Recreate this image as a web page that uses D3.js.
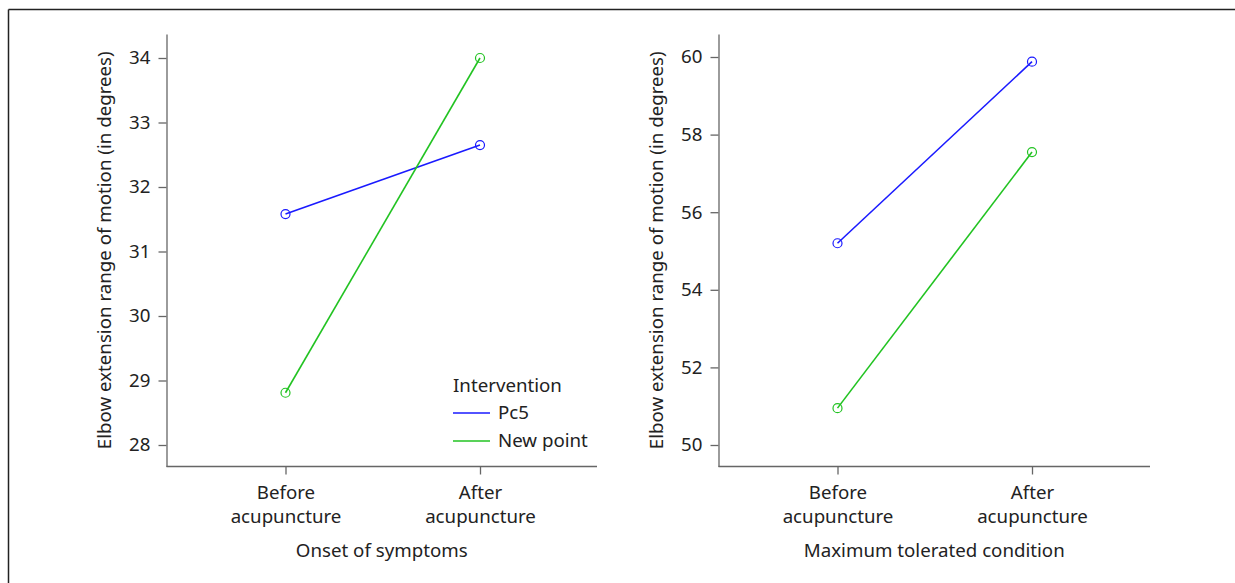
<!DOCTYPE html>
<html><head><meta charset="utf-8">
<script src="https://cdn.jsdelivr.net/npm/d3@7"></script>
<style>
body{margin:0;background:#fff;}
svg{display:block;font-family:"Noto Sans",sans-serif;}
</style></head>
<body><svg id="c" width="1235" height="583"></svg>
<script>
const categories = ["Before\nacupuncture", "After\nacupuncture"];
const seriesNames = ["Pc5", "New point"];
const seriesColors = ["#1a1aff", "#22c322"];
const onsetPc5 = [31.58, 32.65];
const onsetNew = [28.81, 34.0];
const maxPc5 = [55.2, 59.88];
const maxNew = [50.95, 57.55];
const onsetTicks = [28, 29, 30, 31, 32, 33, 34];
const maxTicks = [50, 52, 54, 56, 58, 60];
const yTitle = "Elbow extension range of motion (in degrees)";

const svg = d3.select("#c");
const axisColor = "#666";
const textColor = "#222";
const fs = 18.7;

// frame
svg.append("line").attr("x1",8.5).attr("x2",1235).attr("y1",9.5).attr("y2",9.5).attr("stroke","#222").attr("stroke-width",1.5);
svg.append("line").attr("x1",8.5).attr("x2",8.5).attr("y1",9.5).attr("y2",583).attr("stroke","#222").attr("stroke-width",1.5);

function panel(cfg){
  const g = svg.append("g");
  const x = d3.scalePoint().domain(categories).range([cfg.xBefore, cfg.xAfter]);
  const y = d3.scaleLinear().domain(cfg.domain).range([cfg.bottom, cfg.top]);
  // y axis
  const ya = g.append("g").attr("transform",`translate(${cfg.left},0)`)
    .call(d3.axisLeft(y).tickValues(cfg.ticks).tickFormat(d3.format("d")).tickSize(8).tickPadding(8).tickSizeOuter(0));
  ya.attr("font-size",null).attr("font-family",null);
  ya.select(".domain").attr("stroke",axisColor).attr("stroke-width",1.3);
  ya.selectAll(".tick line").attr("stroke",axisColor).attr("stroke-width",1.3);
  ya.selectAll(".tick text").attr("fill",textColor).style("font-size",fs+"px");
  // x axis
  const xa = g.append("g").attr("transform",`translate(0,${cfg.bottom})`)
    .call(d3.axisBottom(x).tickSize(8).tickSizeOuter(0).tickFormat(""));
  xa.attr("font-size",null).attr("font-family",null);
  xa.select(".domain").attr("d",`M${cfg.left},0H${cfg.right}`).attr("stroke",axisColor).attr("stroke-width",1.3);
  xa.selectAll(".tick line").attr("stroke",axisColor).attr("stroke-width",1.3);
  xa.selectAll(".tick").each(function(d){
    const t = d3.select(this).append("text").attr("fill",textColor).style("font-size",fs+"px").attr("text-anchor","middle");
    d.split("\n").forEach((s,i)=>t.append("tspan").attr("x",0).attr("y",32+i*24).text(s));
  });
  g.append("text").attr("x",(cfg.left+cfg.right)/2).attr("y",cfg.bottom+90).attr("text-anchor","middle")
    .attr("fill",textColor).style("font-size",fs+"px").text(cfg.xTitle);
  g.append("text").attr("transform",`translate(${cfg.left-56},${(cfg.top+cfg.bottom)/2}) rotate(-90)`)
    .attr("text-anchor","middle").attr("fill",textColor).style("font-size",fs+"px").text(yTitle);
  const line = d3.line().x((d,i)=>x(categories[i])).y(d=>y(d));
  cfg.series.forEach((vals,k)=>{
    g.append("path").attr("d",line(vals)).attr("fill","none").attr("stroke",seriesColors[k]).attr("stroke-width",1.6);
    g.selectAll(null).data(vals).enter().append("circle")
      .attr("cx",(d,i)=>x(categories[i])).attr("cy",d=>y(d)).attr("r",4.5)
      .attr("fill","none").attr("stroke",seriesColors[k]).attr("stroke-width",1.2);
  });
  return g;
}

panel({left:166.5, right:597, xBefore:285.5, xAfter:480, top:34, bottom:466.5,
  domain:[28 - (466.5-445)/64.5, 34 + (58-34)/64.5], ticks:onsetTicks,
  series:[onsetPc5, onsetNew], xTitle:"Onset of symptoms"});
panel({left:718.5, right:1150, xBefore:837.5, xAfter:1032, top:34, bottom:466.5,
  domain:[50 - (466.5-445)/38.8, 60 + (57-34)/38.8], ticks:maxTicks,
  series:[maxPc5, maxNew], xTitle:"Maximum tolerated condition"});

// legend
const lg = svg.append("g").attr("transform","translate(453,0)");
lg.append("text").attr("x",0).attr("y",392).attr("fill",textColor).style("font-size",fs+"px").text("Intervention");
seriesNames.forEach((n,i)=>{
  const yy = 413 + i*28;
  lg.append("line").attr("x1",0).attr("x2",37).attr("y1",yy).attr("y2",yy).attr("stroke",seriesColors[i]).attr("stroke-width",1.6);
  lg.append("text").attr("x",45).attr("y",yy+6).attr("fill",textColor).style("font-size",fs+"px").text(n);
});
</script></body></html>
